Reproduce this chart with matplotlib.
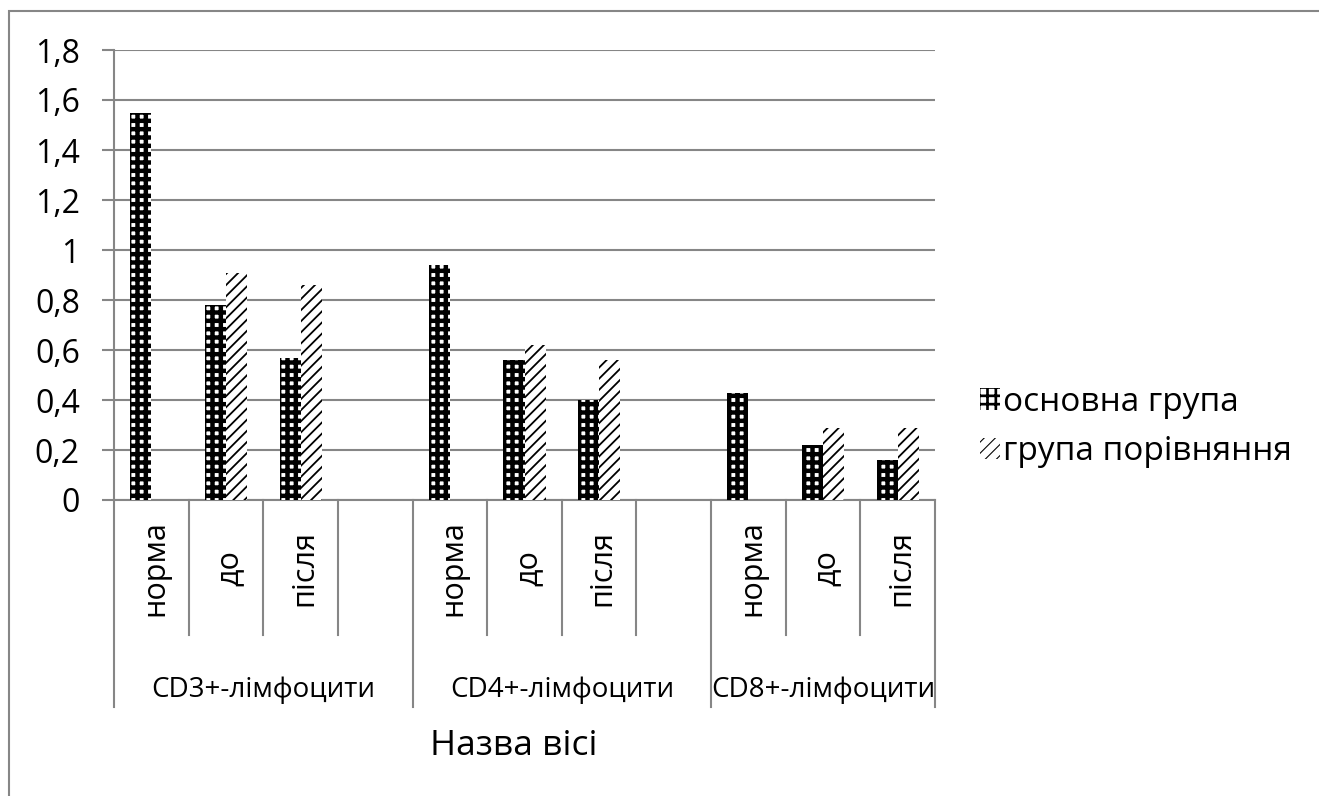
import numpy as np
import matplotlib
matplotlib.use('Agg')
from matplotlib import pyplot as plt
from matplotlib.patches import Patch, Rectangle
from matplotlib.ticker import FuncFormatter

plt.rcParams['font.family'] = ['Open Sans', 'DejaVu Sans']

# data
sub_labels = ['норма', 'до', 'після', '', 'норма', 'до', 'після', '', 'норма', 'до', 'після']
group_labels = ['CD3+-лімфоцити', 'CD4+-лімфоцити', 'CD8+-лімфоцити']
group_sizes = [4, 4, 3]
main_group = [1.55, 0.78, 0.57, None, 0.94, 0.56, 0.40, None, 0.43, 0.22, 0.16]
compare_group = [None, 0.91, 0.86, None, None, 0.62, 0.56, None, None, 0.29, 0.29]
series_names = ['основна група', 'група порівняння']
y_ticks = [0, 0.2, 0.4, 0.6, 0.8, 1.0, 1.2, 1.4, 1.6, 1.8]

GRAY = '#868686'
W, H = 1319, 796

fig = plt.figure(figsize=(W / 100, H / 100), dpi=100)
ax = fig.add_axes([114 / W, 1 - 500 / H, 821 / W, 450 / H])

bar_w = 0.282
main_style = dict(facecolor='white', edgecolor='black', linewidth=0, hatch='++')
comp_style = dict(facecolor='white', edgecolor='black', linewidth=0, hatch='///')
hatch_lw = {'++': 3.2, '///': 1.3}


def set_hatch_lw(patch, lw):
    if hasattr(patch, 'set_hatch_linewidth'):
        patch.set_hatch_linewidth(lw)


def draw_series(values, offset, style):
    xs = [i + offset for i, v in enumerate(values) if v is not None]
    hs = [v for v in values if v is not None]
    bars = ax.bar(xs, hs, width=bar_w, zorder=3, **style)
    for b in bars:
        set_hatch_lw(b, hatch_lw[style['hatch']])
    return bars


draw_series(main_group, -bar_w / 2, main_style)
draw_series(compare_group, bar_w / 2, comp_style)

ax.set_xlim(-0.5, len(sub_labels) - 0.5)
ax.set_ylim(0, 1.8)
ax.set_yticks(y_ticks)
ax.yaxis.set_major_formatter(FuncFormatter(lambda v, _: f'{v:g}'.replace('.', ',')))
ax.tick_params(axis='y', length=8.6, width=1.5, color=GRAY, pad=16, labelsize=23)
ax.set_xticks([])
ax.grid(axis='y', color=GRAY, linewidth=1.5, zorder=0)
ax.set_axisbelow(True)
for side in ['top', 'right']:
    ax.spines[side].set_visible(False)
for side in ['left', 'bottom']:
    ax.spines[side].set_color(GRAY)
    ax.spines[side].set_linewidth(1.5)

# multi-level category axis
trans = ax.get_xaxis_transform()
inner_bottom = -135 / 450
outer_bottom = -207 / 450
group_edges = np.concatenate([[0], np.cumsum(group_sizes)]) - 0.5
for k in range(len(sub_labels) + 1):
    xpos = k - 0.5
    y_end = outer_bottom if xpos in group_edges else inner_bottom
    ax.plot([xpos, xpos], [0, y_end], color=GRAY, linewidth=1.5, transform=trans, clip_on=False)

for i, lab in enumerate(sub_labels):
    if lab:
        ax.text(i + 0.05, -0.151, lab, rotation=90, ha='center', va='center',
                fontsize=22, transform=trans)

for g, lab in enumerate(group_labels):
    center = (group_edges[g] + group_edges[g + 1]) / 2
    ax.text(center, -0.422, lab, ha='center', va='center', fontsize=20, transform=trans)

ax.text(0.487, -0.546, 'Назва вісі', ha='center', va='center', fontsize=25.5, transform=ax.transAxes)

# legend
handles = [Patch(**main_style), Patch(**comp_style)]
leg = fig.legend(handles, series_names, loc='center left', bbox_to_anchor=(950 / W, 1 - 427 / H),
                 frameon=False, fontsize=24, handlelength=0.6, handleheight=0.6,
                 handletextpad=0.1, labelspacing=0.5)
for h, st in zip(leg.legend_handles, [main_style, comp_style]):
    set_hatch_lw(h, hatch_lw[st['hatch']] * 0.6)

# chart border
fig.patches.append(Rectangle((9 / W, -0.1), 1.2, 1 - 11 / H + 0.1, transform=fig.transFigure,
                             fill=False, edgecolor=GRAY, linewidth=1.5))

fig.savefig('out.png', dpi=100)
